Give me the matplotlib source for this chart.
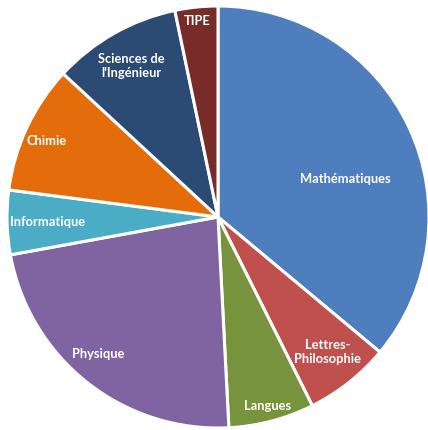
import numpy as np
import matplotlib
matplotlib.use("Agg")
import matplotlib.pyplot as plt

# Weekly hours per subject
subjects = ["Mathématiques", "Lettres-\nPhilosophie", "Langues", "Physique",
            "Informatique", "Chimie", "Sciences de\nl'Ingénieur", "TIPE"]
hours = [11, 2, 2, 7, 1.5, 3, 3, 1]
colours = ["#4F7EBE", "#C0504D", "#77933C", "#8064A2",
           "#4BACC6", "#E46C0A", "#2B4A74", "#772C2A"]

# label placement: fraction of radius and angular shift from slice middle
label_r = [0.63, 0.82, 0.92, 0.86, 0.81, 0.89, 0.83, 0.94]
label_shift = [-8, 1, 0, -3, 0, 1, 0, 0]

W, H = 428, 431
cx, cy, R = 218, 218, 211  # pixel centre / radius

fig = plt.figure(figsize=(W / 100, H / 100), dpi=100)
ax = fig.add_axes([0, 0, 1, 1])

wedges, _ = ax.pie(hours, colors=colours, startangle=90, counterclock=False,
                   wedgeprops=dict(edgecolor="white", linewidth=2.2))

for w, lab, r, sh in zip(wedges, subjects, label_r, label_shift):
    ang = np.deg2rad((w.theta1 + w.theta2) / 2 + sh)
    ax.text(r * np.cos(ang), r * np.sin(ang), lab, ha="center", va="center",
            color="white", fontsize=9.3, fontweight="bold", family=["Lato", "DejaVu Sans"],
            linespacing=1.2)

ax.set_aspect("auto")
ax.set_xlim(-cx / R, (W - cx) / R)
ax.set_ylim(-(H - cy) / R, cy / R)
ax.axis("off")

fig.savefig("out.png", dpi=100)
